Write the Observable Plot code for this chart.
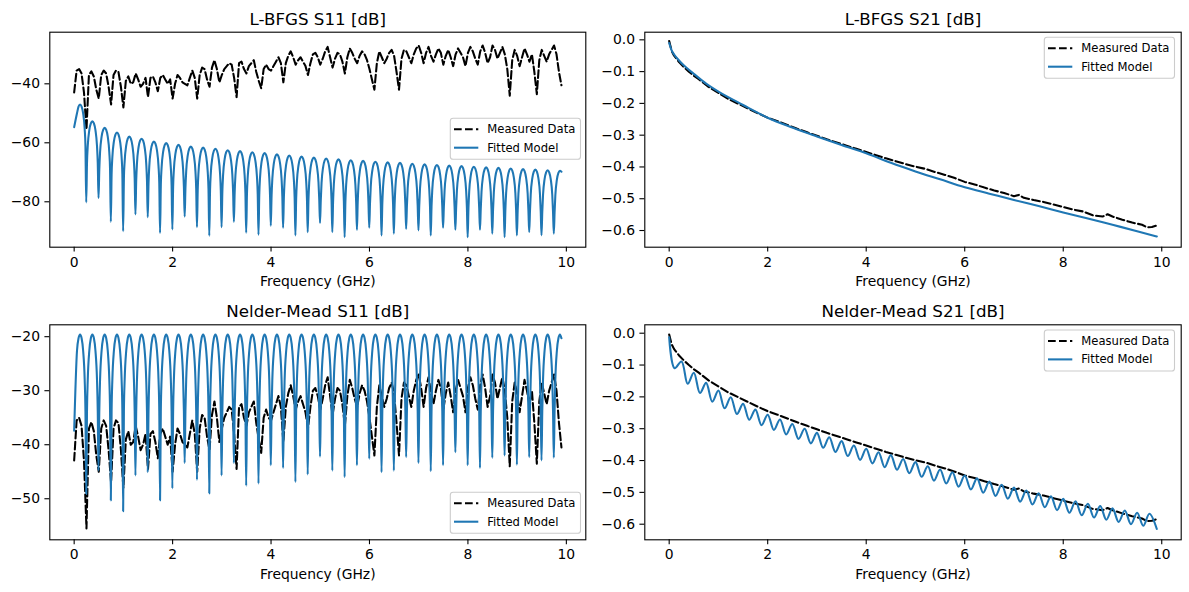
<!DOCTYPE html>
<html>
<head>
<meta charset="utf-8">
<script src="https://cdn.jsdelivr.net/npm/d3@7"></script>
<script src="https://cdn.jsdelivr.net/npm/@observablehq/plot@0.6"></script>
<style>
  body { margin: 0; background: #fff; }
  #chart { position: relative; width: 1189px; height: 592px; }
  #chart svg { position: absolute; left: 0; top: 0; }
</style>
</head>
<body>
<div id="chart"></div>
<script>
// ---------- sweep and measured data ----------
// VNA sweep 0 … 9.9 GHz in 0.05 GHz steps
const sweepGHz = d3.range(199).map(i => +(i * 0.05).toFixed(2));

// measured |S11| in dB, one value per sweep point
const measuredS11 = [
  -42.9,-35.5,-35.0,-36.5,-43.0,-55.5,-37.0,-35.8,-37.5,-42.0,
  -45.0,-37.0,-35.5,-36.5,-41.0,-47.0,-37.0,-35.5,-36.0,-41.0,
  -48.0,-39.0,-37.5,-40.0,-39.5,-36.5,-38.5,-41.0,-40.0,-38.0,
  -44.5,-38.0,-37.5,-39.5,-42.5,-38.0,-37.0,-38.5,-40.0,-38.5,
  -45.0,-40.0,-37.0,-38.0,-39.5,-40.0,-40.5,-38.0,-35.5,-38.0,
  -45.0,-37.0,-34.5,-35.0,-38.5,-41.0,-34.5,-32.0,-35.0,-39.5,
  -37.0,-35.0,-34.0,-33.0,-33.5,-38.0,-44.5,-33.0,-32.5,-35.0,
  -36.5,-34.0,-33.0,-32.0,-36.0,-39.0,-41.5,-35.0,-33.5,-35.0,
  -35.5,-34.0,-32.5,-31.0,-33.0,-39.5,-33.0,-30.5,-29.0,-31.0,
  -33.5,-32.0,-31.0,-32.5,-34.0,-37.0,-33.0,-30.0,-29.5,-31.0,
  -33.5,-31.5,-29.0,-27.5,-31.0,-34.5,-31.5,-29.5,-30.0,-32.5,
  -36.5,-31.0,-28.0,-29.5,-31.5,-33.0,-30.5,-29.0,-30.0,-32.0,
  -35.0,-38.5,-42.0,-33.0,-29.0,-31.0,-33.0,-31.5,-29.5,-28.5,
  -30.5,-36.0,-42.0,-31.5,-28.5,-29.0,-31.0,-33.0,-30.0,-28.0,
  -27.0,-29.5,-33.0,-29.5,-27.5,-30.5,-32.5,-30.0,-28.0,-29.5,
  -33.5,-30.5,-28.5,-31.0,-34.0,-30.0,-28.0,-29.5,-31.0,-34.0,
  -29.5,-27.5,-29.0,-31.5,-33.5,-29.0,-27.0,-29.5,-33.0,-31.0,
  -27.0,-28.5,-31.5,-29.5,-27.5,-30.0,-35.0,-44.0,-32.0,-28.5,
  -30.5,-34.0,-31.0,-28.0,-30.0,-32.5,-30.0,-36.0,-43.5,-32.0,
  -28.5,-30.5,-32.5,-30.0,-28.5,-27.0,-30.0,-36.0,-40.5
];

// measured |S21| in dB as [GHz, dB]
const measuredS21 = [
  [0,-0.004],[0.05,-0.035],[0.1,-0.05],[0.2,-0.07],[0.3,-0.086],[0.4,-0.1],
  [0.5,-0.113],[0.6,-0.124],[0.8,-0.148],[1.0,-0.167],[1.2,-0.186],[1.4,-0.201],
  [1.6,-0.216],[1.8,-0.231],[2.0,-0.245],[2.2,-0.256],[2.4,-0.268],[2.6,-0.28],
  [2.8,-0.291],[3.0,-0.302],[3.2,-0.313],[3.4,-0.323],[3.6,-0.333],[3.8,-0.343],
  [4.0,-0.353],[4.2,-0.363],[4.4,-0.373],[4.6,-0.382],[4.8,-0.391],[5.0,-0.399],
  [5.2,-0.406],[5.4,-0.416],[5.6,-0.425],[5.8,-0.435],[6.0,-0.447],[6.2,-0.455],
  [6.4,-0.465],[6.6,-0.474],[6.8,-0.482],[7.0,-0.492],[7.1,-0.488],[7.2,-0.497],
  [7.4,-0.504],[7.6,-0.51],[7.8,-0.518],[8.0,-0.526],[8.2,-0.534],[8.4,-0.54],
  [8.6,-0.552],[8.8,-0.556],[8.9,-0.549],[9.0,-0.556],[9.2,-0.566],[9.4,-0.575],
  [9.6,-0.582],[9.7,-0.59],[9.8,-0.589],[9.9,-0.584]
];

// ---------- fitted S11 models ----------
// frequencies of the reflection nulls (GHz)
const nullGHz = [
  0.245,0.495,0.745,0.995,1.245,1.495,1.745,1.995,2.245,2.495,
  2.745,2.995,3.245,3.495,3.745,3.995,4.245,4.495,4.745,4.995,
  5.245,5.495,5.745,5.995,6.245,6.495,6.745,6.995,7.245,7.495,
  7.745,7.995,8.245,8.495,8.745,8.995,9.245,9.495,9.745
];
// drop below the lobe maximum across one lobe: [fraction of lobe, dB]
const lobeShape = [
  [0.0625,-14.2],[0.125,-8.3],[0.25,-3.0],[0.375,-0.7],[0.5,0],
  [0.625,-0.7],[0.75,-3.0],[0.875,-8.3],[0.9375,-14.2]
];

// L-BFGS fit
const lbfgsS11Start = -54.7, lbfgsS11End = -69.8;
const lbfgsS11Peaks = [
  -47.0,-52.7,-54.9,-56.5,-57.9,-58.6,-59.6,-60.1,-60.7,-61.3,
  -61.6,-62.0,-62.5,-62.8,-63.2,-63.5,-63.9,-64.3,-64.7,-65.0,
  -65.3,-65.6,-65.9,-66.1,-66.4,-66.6,-66.8,-67.1,-67.3,-67.5,
  -67.7,-67.9,-68.1,-68.3,-68.5,-68.7,-68.9,-69.1,-69.3,-69.5
];
const lbfgsS11Nulls = [
  -80.2,-78.7,-86.8,-90.0,-84.3,-85.2,-90.6,-89.4,-85.0,-88.6,
  -91.5,-88.6,-86.8,-90.5,-91.2,-88.1,-88.8,-91.4,-90.3,-87.2,
  -90.3,-92.0,-89.5,-88.8,-91.4,-90.8,-89.2,-89.7,-91.4,-88.8,
  -89.5,-92.0,-89.5,-90.8,-92.0,-91.4,-90.3,-91.4,-90.8
];

// Nelder-Mead fit
const nmS11Start = -37.4, nmS11End = -20.3;
const nmS11Peaks = [
  -19.6,-19.6,-19.6,-19.6,-19.6,-19.6,-19.6,-19.6,-19.6,-19.6,
  -19.6,-19.6,-19.6,-19.6,-19.6,-19.6,-19.6,-19.6,-19.6,-19.6,
  -19.6,-19.6,-19.6,-19.6,-19.6,-19.6,-19.6,-19.6,-19.6,-19.6,
  -19.6,-19.6,-19.6,-19.6,-19.6,-19.6,-19.6,-19.6,-19.6,-19.6
];
const nmS11Nulls = [
  -49.1,-44.8,-50.3,-52.3,-45.7,-45.1,-50.3,-48.1,-43.4,-46.5,
  -49.0,-45.7,-43.4,-47.6,-47.2,-43.8,-44.3,-46.9,-45.5,-42.2,
  -44.8,-46.0,-43.8,-42.6,-45.1,-44.8,-42.3,-43.4,-44.9,-43.8,
  -41.4,-43.8,-44.3,-42.4,-42.0,-43.7,-42.3,-42.9,-42.4
];

// ---------- fitted S21 models ----------
const lbfgsS21 = [
  [0,-0.010],[0.05,-0.033],[0.1,-0.046],[0.2,-0.065],[0.3,-0.081],[0.5,-0.107],
  [0.75,-0.138],[1.0,-0.163],[1.5,-0.205],[2.0,-0.245],[2.5,-0.276],[3.0,-0.304],
  [3.5,-0.331],[4.0,-0.357],[4.5,-0.387],[5.0,-0.414],[5.5,-0.439],[6.0,-0.464],
  [6.5,-0.484],[7.0,-0.504],[7.5,-0.523],[8.0,-0.543],[8.5,-0.562],[9.0,-0.582],
  [9.5,-0.602],[9.9,-0.619]
];
const nmS21 = [
  [0,-0.013],[0.11,-0.110],[0.25,-0.089],[0.375,-0.159],[0.5,-0.124],[0.625,-0.188],
  [0.75,-0.156],[0.875,-0.215],[1.0,-0.180],[1.125,-0.236],[1.25,-0.201],[1.375,-0.254],
  [1.5,-0.222],[1.625,-0.272],[1.75,-0.240],[1.875,-0.289],[2.0,-0.256],[2.125,-0.304],
  [2.25,-0.271],[2.375,-0.318],[2.5,-0.285],[2.625,-0.332],[2.75,-0.300],[2.875,-0.346],
  [3.0,-0.313],[3.125,-0.360],[3.25,-0.327],[3.375,-0.373],[3.5,-0.339],[3.625,-0.386],
  [3.75,-0.353],[3.875,-0.398],[4.0,-0.363],[4.125,-0.409],[4.25,-0.374],[4.375,-0.421],
  [4.5,-0.383],[4.625,-0.429],[4.75,-0.395],[4.875,-0.440],[5.0,-0.405],[5.125,-0.451],
  [5.25,-0.418],[5.375,-0.463],[5.5,-0.428],[5.625,-0.472],[5.75,-0.437],[5.875,-0.482],
  [6.0,-0.447],[6.125,-0.491],[6.25,-0.456],[6.375,-0.501],[6.5,-0.466],[6.625,-0.511],
  [6.75,-0.476],[6.875,-0.520],[7.0,-0.485],[7.125,-0.529],[7.25,-0.494],[7.375,-0.538],
  [7.5,-0.503],[7.625,-0.547],[7.75,-0.512],[7.875,-0.556],[8.0,-0.520],[8.125,-0.564],
  [8.25,-0.528],[8.375,-0.572],[8.5,-0.536],[8.625,-0.579],[8.75,-0.543],[8.875,-0.586],
  [9.0,-0.550],[9.125,-0.593],[9.25,-0.557],[9.375,-0.600],[9.5,-0.564],[9.625,-0.605],
  [9.75,-0.567],[9.9,-0.615]
];

// ---------- helpers ----------
const pairs = arr => arr.map(([f, v]) => ({f, v}));
const measS11 = sweepGHz.map((f, i) => ({f, v: measuredS11[i]}));

// assemble a lobed S11 trace from lobe maxima and null depths
function lobedTrace(start, peaks, nulls, end) {
  const pts = [{f: 0, v: start}];
  const edges = [-0.005, ...nullGHz, 9.995];
  peaks.forEach((peak, k) => {
    const a = edges[k], b = edges[k + 1];
    for (const [t, dv] of lobeShape) {
      const f = a + t * (b - a);
      if (f >= 0.05 && f < 9.9) pts.push({f, v: peak + dv});
    }
    if (k < nulls.length) pts.push({f: nullGHz[k], v: nulls[k]});
  });
  pts.push({f: 9.9, v: end});
  return pts;
}

const W = 1189, H = 592;
const FONT = "DejaVu Sans, sans-serif";
const BLUE = "#1f77b4";
const fmt1 = d3.format(".1f");

const panels = [
  {
    title: "L-BFGS S11 [dB]", frame: [49.3, 31.7, 585.3, 246.7],
    yDomain: [-95.4, -22.5], yTicks: [-80, -60, -40], yFormat: d3.format("d"),
    measured: measS11, fitted: lobedTrace(lbfgsS11Start, lbfgsS11Peaks, lbfgsS11Nulls, lbfgsS11End),
    fitCurve: "monotone-x", legend: [450.3, 118.3]
  },
  {
    title: "L-BFGS S21 [dB]", frame: [644.3, 31.7, 1180.7, 246.7],
    yDomain: [-0.6525, 0.024], yTicks: [0, -0.1, -0.2, -0.3, -0.4, -0.5, -0.6], yFormat: fmt1,
    measured: pairs(measuredS21), fitted: pairs(lbfgsS21),
    fitCurve: "monotone-x", legend: [1044.3, 37.3]
  },
  {
    title: "Nelder-Mead S11 [dB]", frame: [49.3, 324.3, 585.3, 539.3],
    yDomain: [-57.6, -17.8], yTicks: [-50, -40, -30, -20], yFormat: d3.format("d"),
    measured: measS11, fitted: lobedTrace(nmS11Start, nmS11Peaks, nmS11Nulls, nmS11End),
    fitCurve: "monotone-x", legend: [450.3, 492.3]
  },
  {
    title: "Nelder-Mead S21 [dB]", frame: [644.3, 324.3, 1180.7, 539.3],
    yDomain: [-0.649, 0.0264], yTicks: [0, -0.1, -0.2, -0.3, -0.4, -0.5, -0.6], yFormat: fmt1,
    measured: pairs(measuredS21), fitted: pairs(nmS21),
    fitCurve: "catmull-rom", legend: [1044.3, 330]
  }
];

const chart = document.getElementById("chart");

for (const p of panels) {
  const [l, t, r, b] = p.frame;
  const svg = Plot.plot({
    width: W, height: H,
    marginLeft: l, marginTop: t, marginRight: W - r, marginBottom: H - b,
    style: {background: "transparent", fontFamily: FONT, fontSize: "13.9px", color: "black", overflow: "visible"},
    x: {domain: [-0.495, 10.395]},
    y: {domain: p.yDomain},
    marks: [
      Plot.line(p.measured, {x: "f", y: "v", stroke: "black", strokeWidth: 2.08, strokeDasharray: "7.7,3.3"}),
      Plot.line(p.fitted, {x: "f", y: "v", stroke: BLUE, strokeWidth: 2.08, curve: p.fitCurve}),
      Plot.frame({stroke: "black", strokeWidth: 1.1}),
      Plot.axisX({ticks: [0, 2, 4, 6, 8, 10], tickSize: 4.9, tickPadding: 4.9, strokeWidth: 1.1, label: null, tickFormat: d3.format("d")}),
      Plot.axisY({ticks: p.yTicks, tickSize: 4.9, tickPadding: 4.9, strokeWidth: 1.1, label: null, tickFormat: p.yFormat}),
      Plot.text(["Frequency (GHz)"], {text: d => d, frameAnchor: "bottom", dy: 34.5, lineAnchor: "middle", fontSize: 13.9}),
      Plot.text([p.title], {text: d => d, frameAnchor: "top", dy: -7.7, lineAnchor: "bottom", fontSize: 16.7})
    ]
  });

  // legend box in the panel's corner
  const [lx, ly] = p.legend;
  const g = d3.select(svg).append("g")
    .attr("font-family", FONT).attr("font-size", "11.6px").attr("text-anchor", "start");
  g.append("rect")
    .attr("x", lx).attr("y", ly).attr("width", 130.2).attr("height", 41)
    .attr("rx", 2.8).attr("fill", "white").attr("fill-opacity", 0.8)
    .attr("stroke", "#cccccc").attr("stroke-width", 1.1);
  const entries = [
    {label: "Measured Data", stroke: "black", dash: "7.7,3.3"},
    {label: "Fitted Model", stroke: BLUE, dash: null}
  ];
  entries.forEach((e, i) => {
    const cy = ly + 11 + i * 18.4;
    g.append("line")
      .attr("x1", lx + 3.7).attr("x2", lx + 28).attr("y1", cy).attr("y2", cy)
      .attr("stroke", e.stroke).attr("stroke-width", 2.08)
      .attr("stroke-dasharray", e.dash);
    g.append("text")
      .attr("x", lx + 37).attr("y", cy).attr("dy", "0.35em")
      .attr("text-anchor", "start")
      .attr("fill", "black").text(e.label);
  });

  chart.appendChild(svg);
}
</script>
</body>
</html>
